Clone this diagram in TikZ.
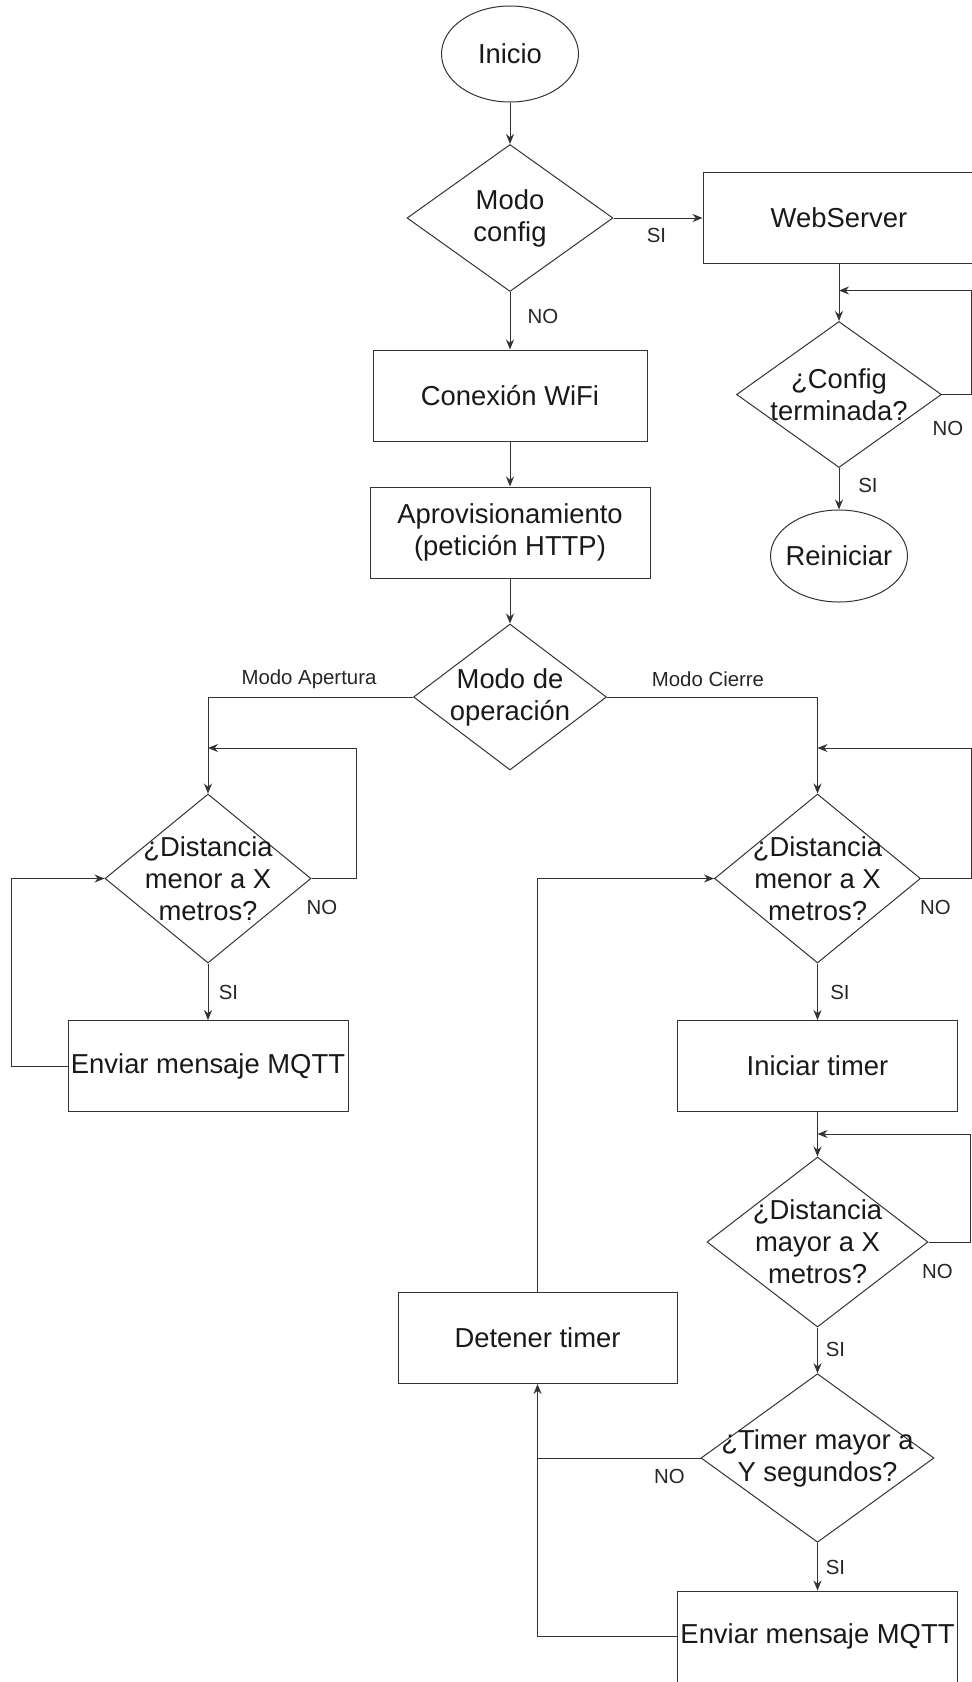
\documentclass[tikz,border=0pt]{standalone}
\usepackage{fontspec}
\setmainfont{Liberation Sans}
\usetikzlibrary{arrows.meta,shapes.geometric}

\begin{document}
\begin{tikzpicture}[x=0.5pt,y=-0.5pt,line width=0.5pt,draw=black!80,>={Stealth[length=5pt,width=4pt]},
	txt/.style={font=\fontsize{13.7}{16}\selectfont,align=center,text=black!90},
	lbl/.style={font=\fontsize{10.2}{12}\selectfont,inner sep=0pt,text=black!85},
	term/.style={ellipse,draw,minimum width=68.5pt,minimum height=48pt,inner sep=0pt},
	proc/.style={rectangle,draw,minimum width=140pt,minimum height=45.5pt,inner sep=0pt,txt},
	decision/.style={diamond,draw,inner sep=0pt}]
				\useasboundingbox (0,0) rectangle (972,1682);
				\clip (0,0) rectangle (972,1682);
				% main column
				\node[term,label={[txt]center:Inicio}] (inicio) at (510,54) {};
				\node[decision,minimum width=103pt,minimum height=73.5pt,label={[txt]center:{Modo\\config}}] (config) at (510,218) {};
				\node[proc,minimum width=137pt] (wifi) at (510,395.5) {Conexión WiFi};
				\node[proc] (aprov) at (510,532.5) {Aprovisionamiento\\(petición HTTP)};
				\node[decision,minimum width=96.5pt,minimum height=73pt,label={[txt]center:{Modo de\\operación}}] (modo) at (510,697) {};
				% config branch
				\node[proc,minimum width=136pt] (webserver) at (839,218) {WebServer};
				\node[decision,minimum width=102.5pt,minimum height=73pt,label={[txt]center:{¿Config\\terminada?}}] (cfgdone) at (839,394.5) {};
				\node[term,minimum width=68.5pt,minimum height=46pt,label={[txt]center:Reiniciar}] (reiniciar) at (839,556) {};
				% modo apertura
				\node[decision,minimum width=103pt,minimum height=84.5pt,label={[txt]center:{¿Distancia\\menor a X\\metros?}}] (dist1) at (208,878.5) {};
				\node[proc] (env1) at (208,1066) {Enviar mensaje MQTT};
				% modo cierre
				\node[decision,minimum width=103pt,minimum height=84.5pt,label={[txt]center:{¿Distancia\\menor a X\\metros?}}] (dist2) at (817.5,878.5) {};
				\node[proc] (ini) at (817.5,1066) {Iniciar timer};
				\node[decision,minimum width=110.5pt,minimum height=85pt,label={[txt]center:{¿Distancia\\mayor a X\\metros?}}] (mayor) at (817.5,1242) {};
				\node[decision,minimum width=116.5pt,minimum height=84.3pt,label={[txt]center:{¿Timer mayor a\\Y segundos?}}] (timer) at (817.5,1458) {};
				\node[proc] (env2) at (817.5,1636.5) {Enviar mensaje MQTT};
				\node[proc,minimum width=139.5pt] (detener) at (537.5,1338) {Detener timer};
				% loop entry points
				\coordinate (m1) at (208,748);
				\coordinate (m2) at (817.5,748);
				\coordinate (m3) at (817.5,1134);
				\coordinate (m4) at (839,290.5);
				% connectors
				\draw[->] (inicio) -- (config);
				\draw[->] (config) -- (webserver);
				\draw[->] (config) -- (wifi);
				\draw[->] (wifi) -- (aprov);
				\draw[->] (aprov) -- (modo);
				\draw[->] (webserver) -- (cfgdone);
				\draw[->] (cfgdone.east) -- ++(29,0) |- (m4);
				\draw[->] (cfgdone) -- (reiniciar);
				\draw[->] (modo.west) -| (dist1.north);
				\draw[->] (modo.east) -| (dist2.north);
				\draw[->] (dist1.east) -- ++(45,0) |- (m1);
				\draw[->] (dist1) -- (env1);
				\draw[->] (env1.west) -- ++(-56,0) |- (dist1.west);
				\draw[->] (dist2.east) -- ++(50,0) |- (m2);
				\draw[->] (dist2) -- (ini);
				\draw[->] (ini) -- (mayor);
				\draw[->] (mayor.east) -- ++(42,0) |- (m3);
				\draw[->] (mayor) -- (timer);
				\draw[->] (timer) -- (env2);
				\draw[->] (timer.west) -| (detener.south);
				\draw (env2.west) -| (detener.south |- timer.west);
				\draw[->] (detener.north) |- (dist2.west);
				% labels
				\node[lbl] (si1) at (656.5,235) {SI};
				\node[lbl] (no1) at (543,316.5) {NO};
				\node[lbl] (no6) at (948,428) {NO};
				\node[lbl] (si6) at (868,485) {SI};
				\node[lbl] (apert) at (309,679) {Modo Apertura};
				\node[lbl] (cierre) at (708,679) {Modo Cierre};
				\node[lbl] (no2) at (322,907.5) {NO};
				\node[lbl] (si2) at (228.5,992) {SI};
				\node[lbl] (no3) at (935.5,907.5) {NO};
				\node[lbl] (si3) at (840,992) {SI};
				\node[lbl] (no4) at (937.5,1271) {NO};
				\node[lbl] (si4) at (835.5,1349.5) {SI};
				\node[lbl] (no5) at (669.5,1476) {NO};
				\node[lbl] (si5) at (835.5,1567.5) {SI};
			\end{tikzpicture}
\end{document}
